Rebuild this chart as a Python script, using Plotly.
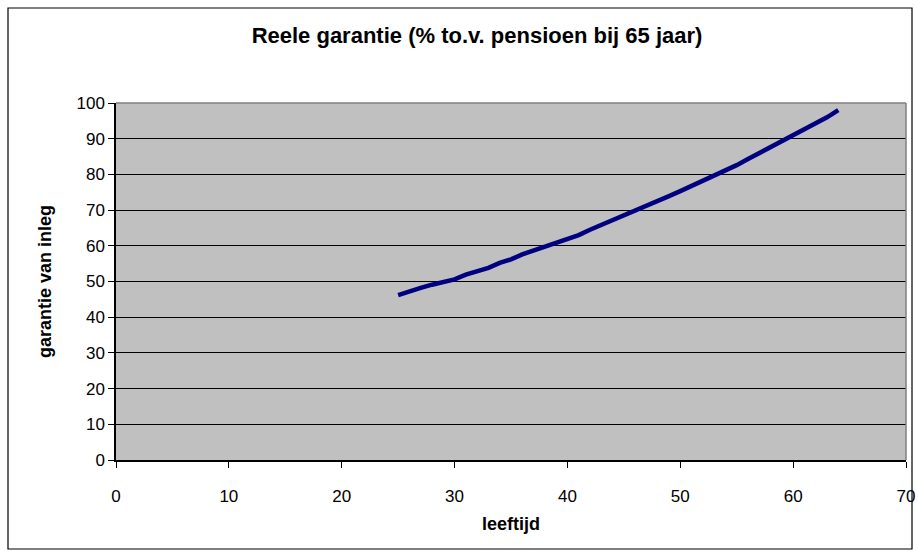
import plotly.graph_objects as go

ages = list(range(25, 65))
garantie = [46.2, 47.3, 48.2, 49.1, 50.0, 50.6, 51.9, 52.8, 53.8, 55.2,
            56.2, 57.6, 58.7, 59.7, 60.9, 62.1, 63.0, 64.5, 65.8, 67.1,
            68.4, 69.7, 71.2, 72.5, 73.9, 75.3, 76.7, 78.2, 79.8, 81.1,
            82.6, 84.3, 86.0, 87.5, 89.1, 91.0, 92.6, 94.2, 96.0, 98.0]

title = "Reele garantie (% to.v. pensioen bij 65 jaar)"
x_title = "leeftijd"
y_title = "garantie van inleg"

FONT = "Liberation Sans, Arial, sans-serif"

fig = go.Figure()
fig.add_trace(go.Scatter(x=ages, y=garantie, mode="lines",
                         line=dict(color="#000080", width=4.5),
                         showlegend=False, hoverinfo="x+y"))

L, R, T, B = 116, 12, 103, 95
W, H = 918, 555
pw, ph = W - L - R, H - T - B

fig.update_layout(
    width=W, height=H,
    margin=dict(l=L, r=R, t=T, b=B, autoexpand=False),
    paper_bgcolor="white",
    plot_bgcolor="#C0C0C0",
    font=dict(family=FONT, color="black", size=17),
    title=dict(text="<b>" + title + "</b>", x=(477) / W, xanchor="center",
               y=1 - 35 / H, yanchor="middle",
               font=dict(size=22, family=FONT)),
    xaxis=dict(range=[0, 70], tickvals=list(range(0, 71, 10)),
               showgrid=False, zeroline=False,
               showline=True, linecolor="black", linewidth=1.5,
               ticks="outside", ticklen=6, tickcolor="black",
               tickfont=dict(size=17), ticklabelstandoff=14,
               automargin=False,
               title=dict(text="<b>" + x_title + "</b>", font=dict(size=18), standoff=12),
               mirror=False, fixedrange=True),
    yaxis=dict(range=[0, 100], tickvals=list(range(0, 101, 10)),
               showgrid=True, gridcolor="#000000", gridwidth=1,
               zeroline=False,
               showline=True, linecolor="black", linewidth=1.5,
               ticks="outside", ticklen=6, tickcolor="black",
               tickfont=dict(size=17),
               automargin=False,
               title=dict(text="<b>" + y_title + "</b>", font=dict(size=18), standoff=20),
               fixedrange=True),
)

# gray border on top and right of plot area
fig.add_shape(type="line", xref="paper", yref="paper", x0=0, x1=1, y0=1, y1=1,
              line=dict(color="#808080", width=1.5))
fig.add_shape(type="line", xref="paper", yref="paper", x0=1, x1=1, y0=0, y1=1,
              line=dict(color="#808080", width=1.5))

# outer chart frame
fig.add_shape(type="rect", xref="paper", yref="paper",
              x0=(8 - L) / pw, x1=(912 - L) / pw,
              y0=(H - B - 549) / ph, y1=(H - B - 8) / ph,
              line=dict(color="black", width=1.2), fillcolor="rgba(0,0,0,0)",
              layer="below")

fig.write_html("out.html", config={"displayModeBar": False},
               post_script="document.body.style.margin='0';document.body.style.overflow='hidden';")
